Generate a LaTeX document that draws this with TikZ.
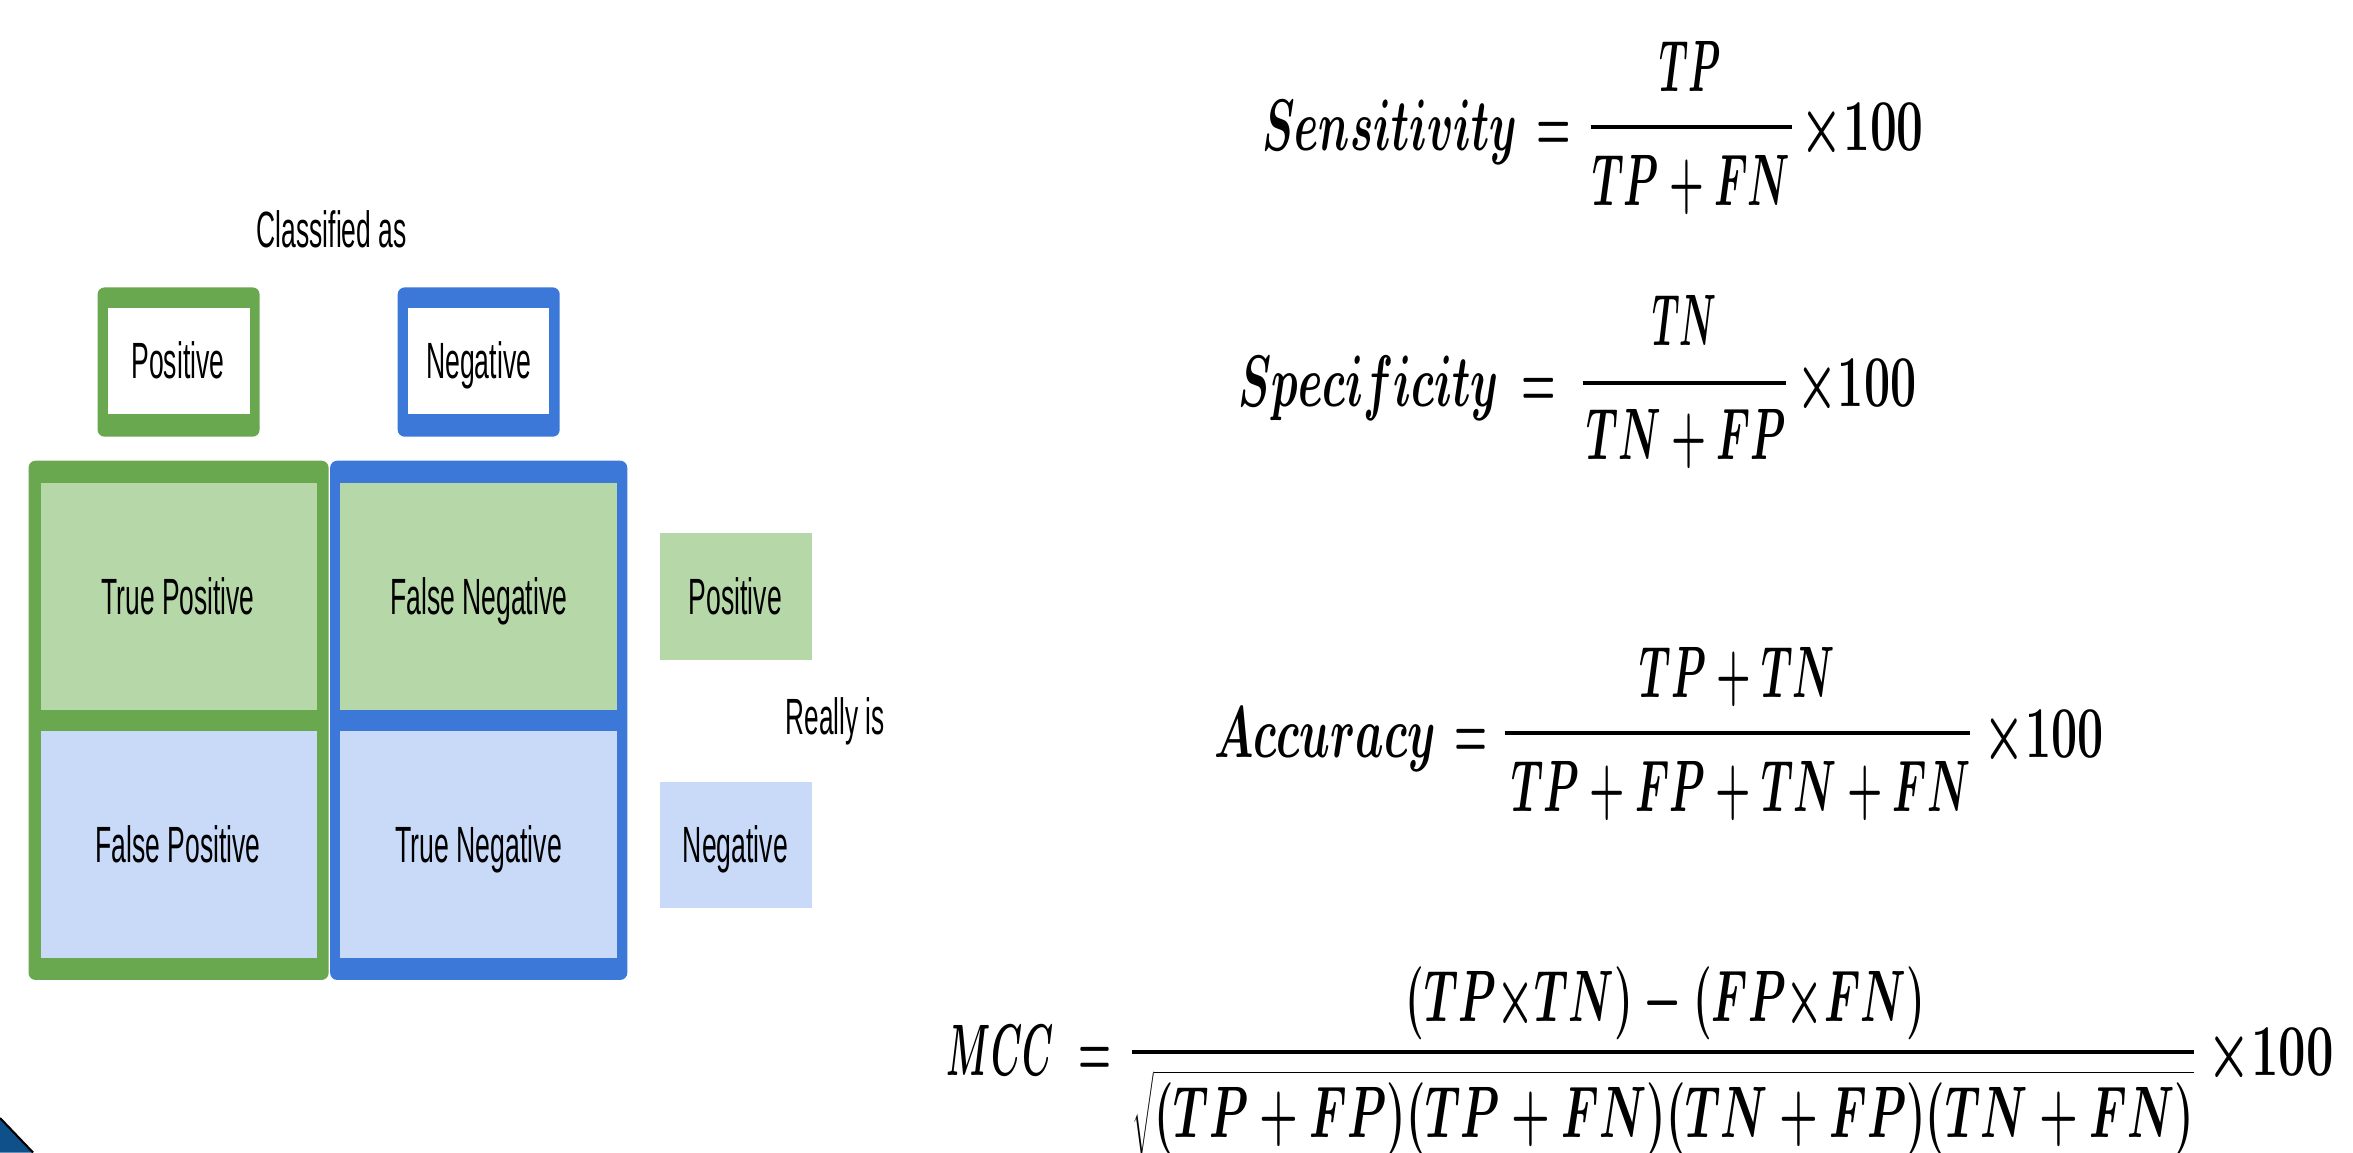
\documentclass[tikz,border=0pt]{standalone}
\usepackage[no-math]{fontspec}
\usepackage{graphicx}
\newfontfamily\lblfont{Liberation Sans}
\newlength\pxu \setlength\pxu{0.015cm}
\newcommand\fitw[2]{\resizebox{#1\pxu}{\height}{#2}}
\definecolor{gborder}{HTML}{6AA84F}
\definecolor{gfill}{HTML}{B6D7A8}
\definecolor{bborder}{HTML}{3C78D8}
\definecolor{bfill}{HTML}{C9DAF8}
\definecolor{tri}{HTML}{10508A}
\tikzset{
  lab/.style={anchor=base, inner sep=0pt, font=\lblfont\fontsize{14.5}{17}\selectfont},
  eqn/.style={anchor=base, inner sep=0pt, font=\fontsize{20.6}{25}\selectfont\boldmath},
  fracbar/.style={line width=1.1pt, black},
}
\begin{document}
\begin{tikzpicture}[x=0.015cm, y=-0.015cm]
\useasboundingbox (0,0) rectangle (1568,768);
\fill[white] (0,0) rectangle (1568,768);

% ---------- confusion matrix ----------
\node[lab] (cls) at (221,164.6) {\fitw{100}{Classified as}};

% header boxes
\fill[gborder, rounded corners=2pt] (65,191.5) rectangle (173,291);
\fill[white] (72,205) rectangle (166.5,276);
\fill[bborder, rounded corners=2pt] (265,191.5) rectangle (373,291);
\fill[white] (272,205) rectangle (366,276);
\node[lab] (hpos) at (118.6,252.5) {\fitw{62}{Positive}};
\node[lab] (hneg) at (319,252.5) {\fitw{70}{Negative}};

% columns
\fill[gborder, rounded corners=2pt] (19,307) rectangle (219,653);
\fill[gfill] (27,322) rectangle (211,473);
\fill[bfill] (27,487) rectangle (211,638.5);
\fill[bborder, rounded corners=2pt] (220,307) rectangle (418,653);
\fill[gfill] (226.5,322) rectangle (411.4,473);
\fill[bfill] (226.5,487) rectangle (411.4,638.5);

\node[lab] (tp) at (118.6,409.4) {\fitw{102}{True Positive}};
\node[lab] (fn) at (319,409.4) {\fitw{118}{False Negative}};
\node[lab] (fp) at (118.6,575) {\fitw{110}{False Positive}};
\node[lab] (tn) at (319,575) {\fitw{111}{True Negative}};

% legend
\fill[gfill] (440,355) rectangle (541,440);
\fill[bfill] (440,521) rectangle (541,605);
\node[lab] (lpos) at (490,409.4) {\fitw{62}{Positive}};
\node[lab] (lneg) at (490,575) {\fitw{70}{Negative}};
\node[lab] (real) at (556.5,489.6) {\fitw{66}{Really is}};

% ---------- formulas ----------
% Sensitivity
\node[eqn] (sensL) at (926,100.6) {\fitw{170}{$Sensitivity$}};
\node[eqn] (sensE) at (1035.5,100.6) {\fitw{23}{$=$}};
\coordinate (sensB1) at (1060,84.7); \coordinate (sensB2) at (1194,84.7);
\draw[fracbar] (sensB1) -- (sensB2);
\node[eqn] (sensN) at (1126.5,60.8) {\fitw{41}{$TP$}};
\node[eqn] (sensD) at (1127,137) {\fitw{132}{$TP+FN$}};
\node[eqn] (sensX) at (1241,100.6) {\fitw{82}{$\times100$}};

% Specificity
\node[eqn] (specL) at (912,270.8) {\fitw{173.5}{$Specificity$}};
\node[eqn] (specE) at (1025.5,270.8) {\fitw{23}{$=$}};
\coordinate (specB1) at (1055,255.4); \coordinate (specB2) at (1190,255.4);
\draw[fracbar] (specB1) -- (specB2);
\node[eqn] (specN) at (1122.5,230) {\fitw{43}{$TN$}};
\node[eqn] (specD) at (1123.5,306) {\fitw{133}{$TN+FP$}};
\node[eqn] (specX) at (1237,270.8) {\fitw{80}{$\times100$}};

% Accuracy
\node[eqn] (accL) at (883,504.5) {\fitw{148}{$Accuracy$}};
\node[eqn] (accE) at (980,504.5) {\fitw{22}{$=$}};
\coordinate (accB1) at (1003,488.7); \coordinate (accB2) at (1313,488.7);
\draw[fracbar] (accB1) -- (accB2);
\node[eqn] (accN) at (1157.6,464.5) {\fitw{130}{$TP+TN$}};
\node[eqn] (accD) at (1160,540.8) {\fitw{306}{$TP+FP+TN+FN$}};
\node[eqn] (accX) at (1362,504.5) {\fitw{80}{$\times100$}};

% MCC
\node[eqn] (mccL) at (666.5,716.7) {\fitw{71}{$MCC$}};
\node[eqn] (mccE) at (730,716.7) {\fitw{22}{$=$}};
\coordinate (mccB1) at (754.5,701.2); \coordinate (mccB2) at (1462,701.2);
\draw[fracbar] (mccB1) -- (mccB2);
\node[eqn] (mccN) at (1109.7,680.5) {\fitw{346}{$(TP{\times}TN)-(FP{\times}FN)$}};
\node[eqn] (mccD) at (1108.5,758) {\fitw{707}{$\displaystyle\sqrt{(TP+FP)(TP+FN)(TN+FP)(TN+FN)}$}};
\node[eqn] (mccX) at (1513,716.7) {\fitw{84}{$\times100$}};

% corner triangle
\fill[tri] (0,745) -- (22,768) -- (0,768) -- cycle;
\draw[black, line width=0.6pt] (0,745) -- (22,768);
\end{tikzpicture}
\end{document}
